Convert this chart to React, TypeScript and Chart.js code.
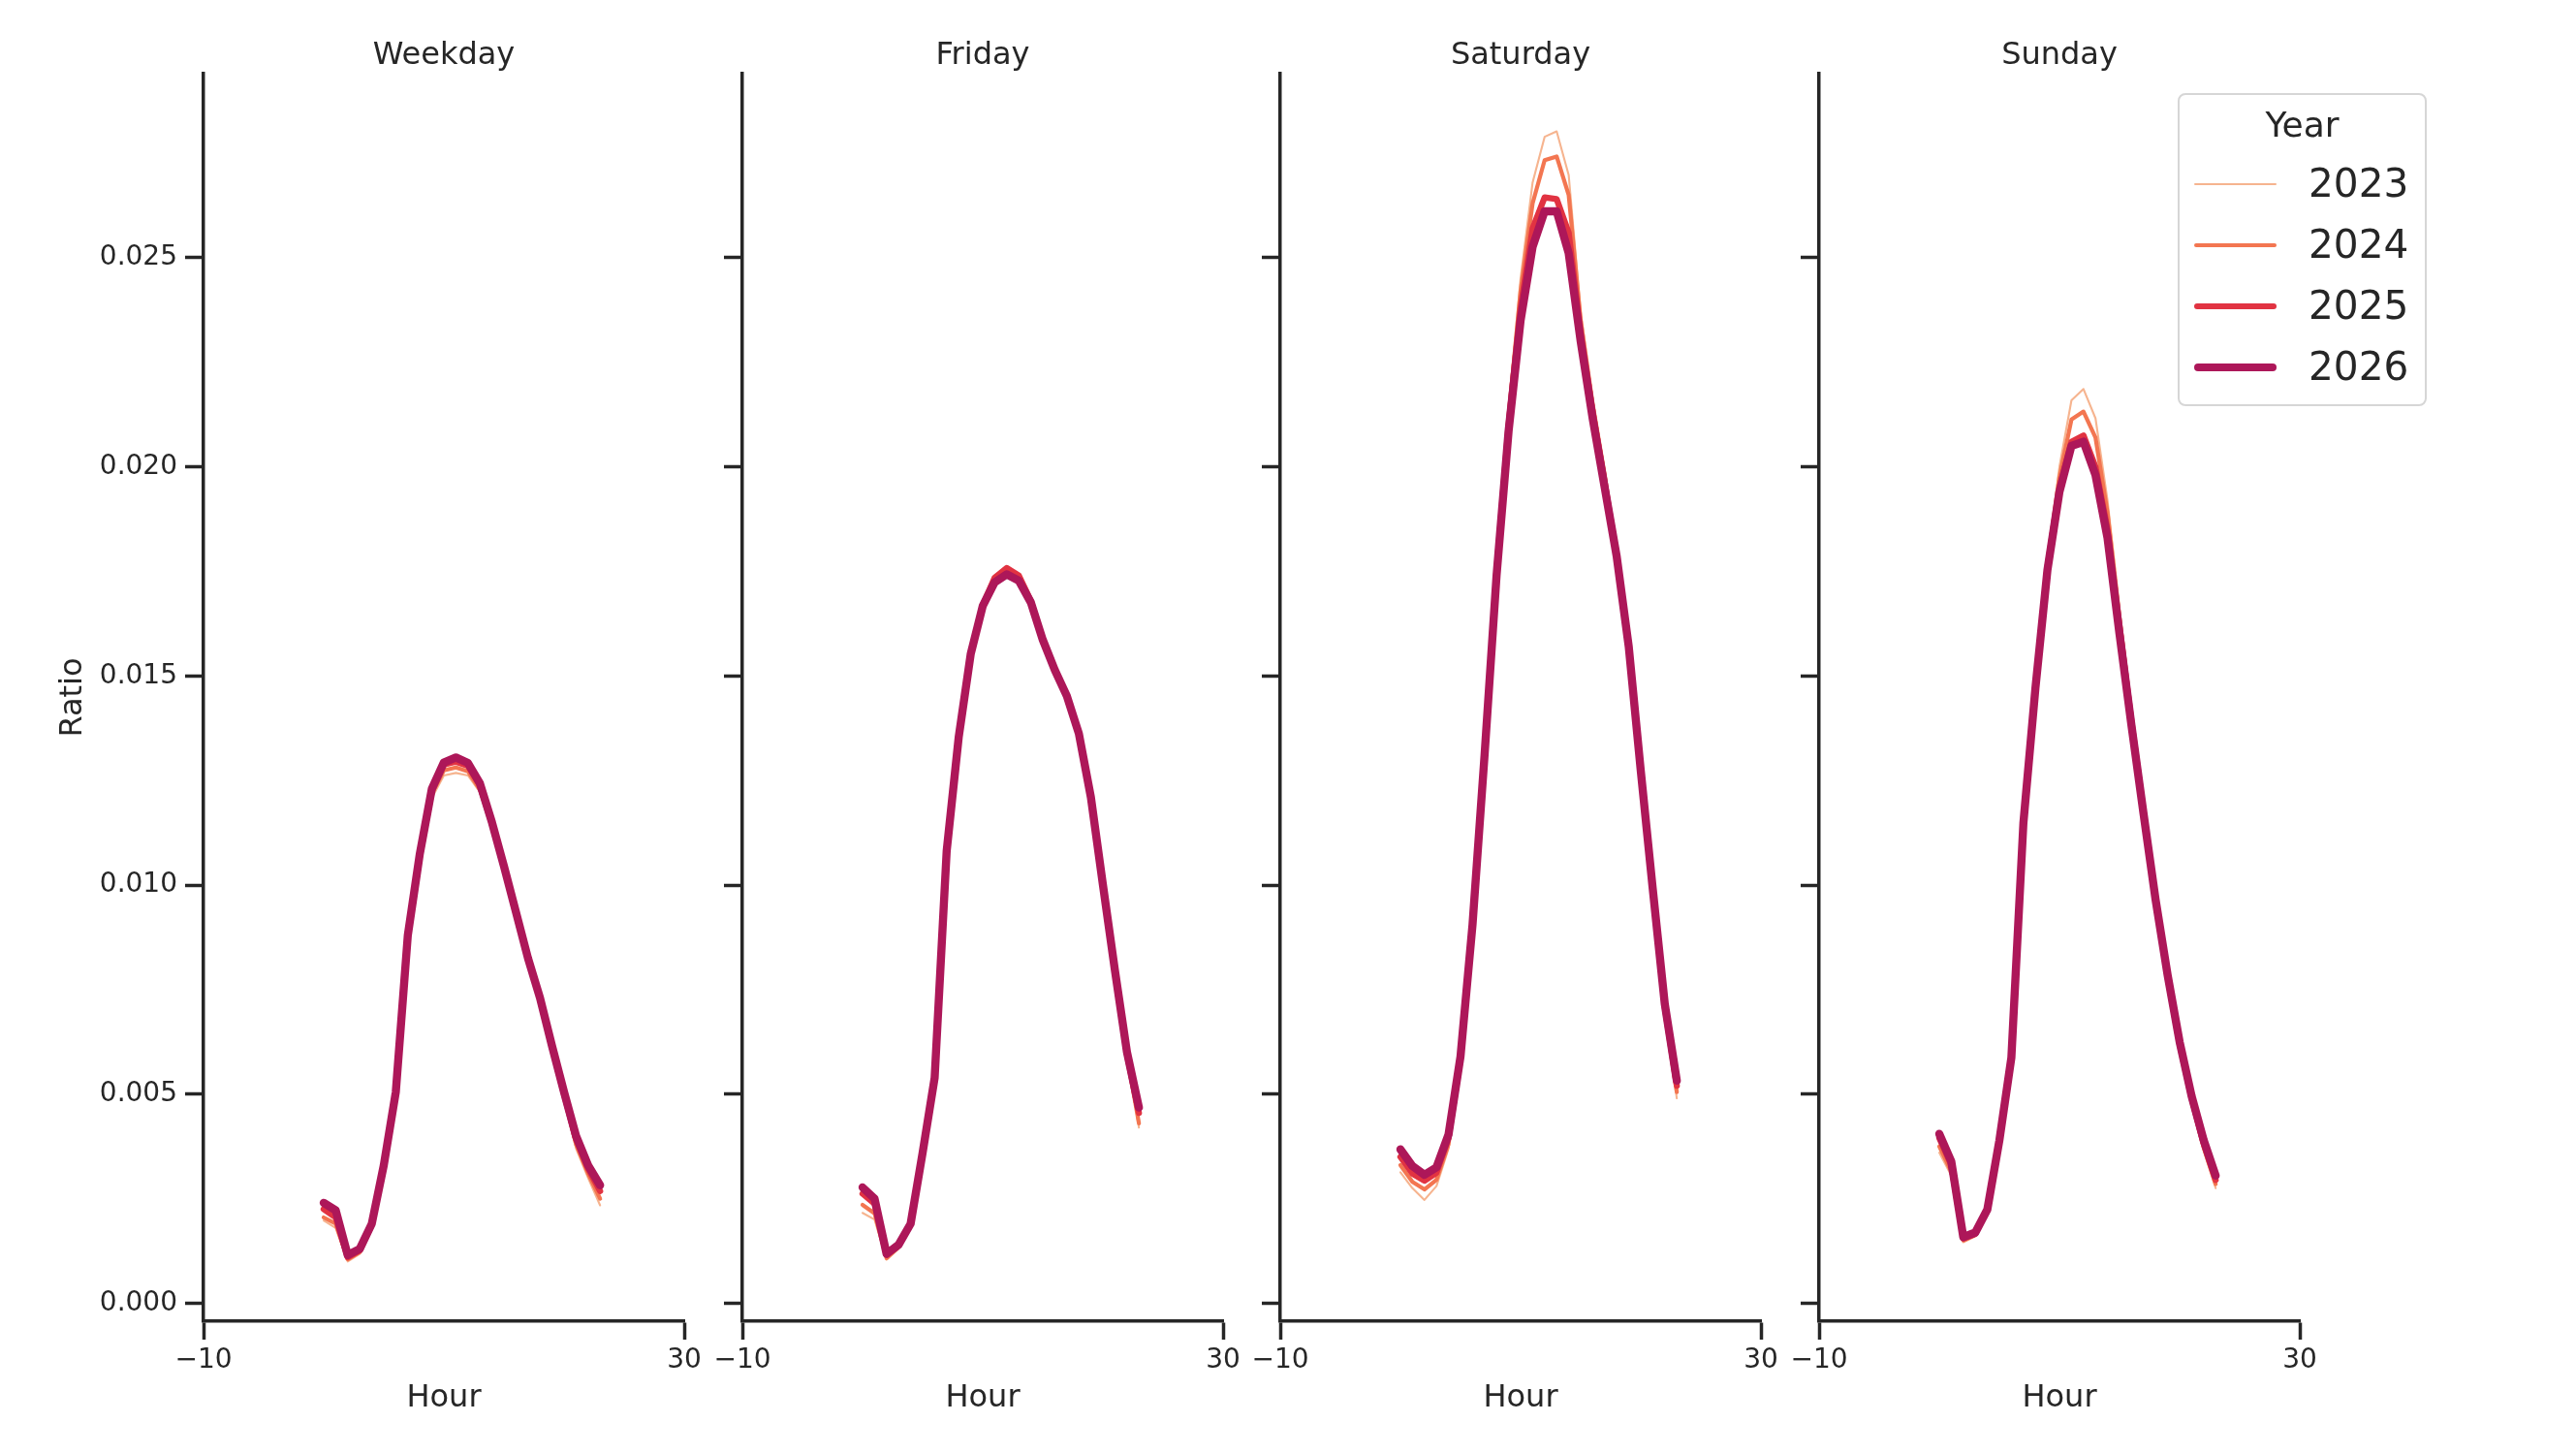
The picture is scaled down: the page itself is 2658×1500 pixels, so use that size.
import { useEffect, useRef } from "react";
import { Chart, ChartConfiguration, registerables } from "chart.js";

Chart.register(...registerables);

const INK = "#262626";
const FONT = "DejaVu Sans";

const hours = [0, 1, 2, 3, 4, 5, 6, 7, 8, 9, 10, 11, 12, 13, 14, 15, 16, 17, 18, 19, 20, 21, 22, 23];
const years = ["2023", "2024", "2025", "2026"];
const yearColors = ["#f6b48f", "#f37651", "#e13342", "#ad1759"];
const yearWidths = [2.1, 4.2, 6.3, 8.4];
const panelTitles = ["Weekday", "Friday", "Saturday", "Sunday"];
const yTicks = [0, 0.005, 0.01, 0.015, 0.02, 0.025];
const xTicks = [-10, 30];

const weekday2023 = [0.00198, 0.0018, 0.001, 0.00118, 0.00182, 0.00322, 0.00498, 0.00868, 0.01058, 0.01208, 0.01262, 0.01268, 0.01262, 0.01222, 0.01138, 0.01038, 0.00928, 0.0082, 0.00722, 0.00605, 0.0049, 0.0037, 0.003, 0.00234];
const weekday2024 = [0.00205, 0.0019, 0.00105, 0.00122, 0.00185, 0.00325, 0.005, 0.00872, 0.01065, 0.01218, 0.01274, 0.01281, 0.01272, 0.01228, 0.01142, 0.0104, 0.0093, 0.00822, 0.00725, 0.00608, 0.00495, 0.0038, 0.0031, 0.0025];
const weekday2025 = [0.00225, 0.00205, 0.0011, 0.00126, 0.00188, 0.00328, 0.00503, 0.00876, 0.0107, 0.01225, 0.01288, 0.01295, 0.01285, 0.01238, 0.01146, 0.01043, 0.00932, 0.00824, 0.00728, 0.00612, 0.005, 0.00392, 0.00322, 0.00268];
const weekday2026 = [0.0024, 0.00222, 0.00115, 0.0013, 0.0019, 0.0033, 0.00505, 0.0088, 0.01075, 0.0123, 0.01293, 0.01305, 0.01292, 0.01243, 0.0115, 0.01045, 0.00935, 0.00825, 0.0073, 0.00615, 0.00505, 0.004, 0.0033, 0.00282];

const friday2023 = [0.00216, 0.002, 0.00104, 0.0013, 0.00185, 0.00355, 0.00536, 0.01078, 0.0135, 0.0155, 0.01668, 0.0173, 0.01745, 0.01732, 0.01678, 0.01588, 0.01514, 0.0145, 0.01358, 0.01202, 0.00992, 0.00785, 0.0059, 0.0042];
const friday2024 = [0.00235, 0.00215, 0.00108, 0.00135, 0.00187, 0.00357, 0.00537, 0.0108, 0.01352, 0.01552, 0.0167, 0.01735, 0.01752, 0.01736, 0.01682, 0.0159, 0.01516, 0.01452, 0.0136, 0.01205, 0.00995, 0.00788, 0.00592, 0.0043];
const friday2025 = [0.00262, 0.00238, 0.00115, 0.00138, 0.00189, 0.00358, 0.00538, 0.01081, 0.01353, 0.01553, 0.0167, 0.01735, 0.01758, 0.0174, 0.0168, 0.01588, 0.01515, 0.01452, 0.01361, 0.01208, 0.00998, 0.00792, 0.00596, 0.00455];
const friday2026 = [0.00277, 0.0025, 0.00118, 0.0014, 0.0019, 0.0036, 0.00539, 0.01081, 0.01353, 0.01552, 0.01667, 0.01724, 0.01743, 0.01728, 0.01676, 0.01586, 0.01514, 0.01452, 0.01362, 0.0121, 0.01001, 0.00796, 0.00601, 0.00468];

const saturday2023 = [0.00313, 0.00275, 0.00247, 0.0028, 0.0037, 0.00575, 0.00905, 0.0132, 0.0177, 0.0214, 0.0245, 0.0268, 0.02789, 0.02802, 0.02698, 0.0237, 0.0216, 0.0199, 0.018, 0.01575, 0.01262, 0.00965, 0.00688, 0.0049];
const saturday2024 = [0.0033, 0.0029, 0.00272, 0.00295, 0.0038, 0.0058, 0.00905, 0.0132, 0.0176, 0.0212, 0.0242, 0.0263, 0.02733, 0.02742, 0.0265, 0.0235, 0.0215, 0.0198, 0.0179, 0.01573, 0.01265, 0.00972, 0.00698, 0.00505];
const saturday2025 = [0.0035, 0.0031, 0.00293, 0.00312, 0.00395, 0.00585, 0.00905, 0.01315, 0.0175, 0.021, 0.0238, 0.0257, 0.02644, 0.0264, 0.0256, 0.0232, 0.0213, 0.0196, 0.01788, 0.01572, 0.0127, 0.00985, 0.00708, 0.0052];
const saturday2026 = [0.00368, 0.00328, 0.00307, 0.00325, 0.00403, 0.0059, 0.00905, 0.0131, 0.0174, 0.02085, 0.0235, 0.02526, 0.02611, 0.02611, 0.02511, 0.023, 0.02115, 0.0195, 0.01785, 0.0157, 0.01273, 0.0099, 0.00715, 0.00532];

const sunday2023 = [0.0036, 0.00305, 0.00146, 0.0016, 0.00218, 0.00388, 0.0059, 0.01155, 0.01485, 0.0178, 0.02, 0.02159, 0.02186, 0.02116, 0.0192, 0.0166, 0.01415, 0.01185, 0.00965, 0.0077, 0.00605, 0.00475, 0.00365, 0.00275];
const sunday2024 = [0.00375, 0.00315, 0.0015, 0.00163, 0.0022, 0.00388, 0.00588, 0.01152, 0.0148, 0.0177, 0.01975, 0.02113, 0.02132, 0.0207, 0.0189, 0.0164, 0.01405, 0.0118, 0.00965, 0.00775, 0.00612, 0.00482, 0.00372, 0.00285];
const sunday2025 = [0.00395, 0.0033, 0.00155, 0.00166, 0.00222, 0.00388, 0.00587, 0.0115, 0.01475, 0.0176, 0.0195, 0.0206, 0.02075, 0.02, 0.0185, 0.01615, 0.0139, 0.01175, 0.00965, 0.0078, 0.0062, 0.0049, 0.00382, 0.00295];
const sunday2026 = [0.00405, 0.00339, 0.00158, 0.00169, 0.00224, 0.00389, 0.00587, 0.01148, 0.0147, 0.01753, 0.0194, 0.0205, 0.0206, 0.0198, 0.0183, 0.016, 0.0138, 0.0117, 0.00965, 0.00785, 0.00625, 0.00495, 0.0039, 0.00305];

const panelSeries = [
  [weekday2023, weekday2024, weekday2025, weekday2026],
  [friday2023, friday2024, friday2025, friday2026],
  [saturday2023, saturday2024, saturday2025, saturday2026],
  [sunday2023, sunday2024, sunday2025, sunday2026],
];

// figure geometry (px)
const axisLeft = [210, 766, 1321, 1877];
const panelWidth = 496;
const plotTop = 76;
const plotBottom = 1363;
const figHeight = 1500;
const sidePad = 40;
const Y_MIN = -0.00043;
const Y_MAX = 0.0294;

const Panel = ({ index }: { index: number }) => {
  const canvasRef = useRef<HTMLCanvasElement | null>(null);
  const chartRef = useRef<Chart | null>(null);

  const left = index === 0 ? 0 : axisLeft[index] - sidePad;
  const yAxisWidth = axisLeft[index] - left;
  const width = yAxisWidth + panelWidth + sidePad;

  useEffect(() => {
    if (!canvasRef.current) return;
    const ctx = canvasRef.current.getContext("2d");
    if (!ctx) return;
    if (chartRef.current) chartRef.current.destroy();

    const config: ChartConfiguration<"line"> = {
      type: "line",
      data: {
        datasets: years.map((year, k) => ({
          label: year,
          data: hours.map((h, j) => ({ x: h, y: panelSeries[index][k][j] })),
          borderColor: yearColors[k],
          backgroundColor: yearColors[k],
          borderWidth: yearWidths[k],
          borderCapStyle: "round",
          borderJoinStyle: "round",
          pointRadius: 0,
          tension: 0,
          fill: false,
          order: years.length - 1 - k,
        })),
      },
      options: {
        responsive: true,
        maintainAspectRatio: false,
        animation: false,
        layout: { padding: { left: 0, right: sidePad, top: 0, bottom: 0 } },
        scales: {
          x: {
            type: "linear",
            min: -10,
            max: 30,
            afterBuildTicks: (s) => {
              s.ticks = xTicks.map((v) => ({ value: v }));
            },
            afterFit: (s) => {
              s.height = figHeight - plotBottom;
            },
            border: { display: true, color: INK, width: 3.5 },
            grid: {
              drawOnChartArea: false,
              drawTicks: true,
              tickLength: 19,
              tickWidth: 3.5,
              tickColor: INK,
            },
            ticks: {
              color: INK,
              font: { family: FONT, size: 28 },
              padding: 5,
              maxRotation: 0,
              autoSkip: false,
              callback: (v) => (Number(v) < 0 ? "\u2212" + Math.abs(Number(v)) : String(v)),
            },
            title: {
              display: true,
              text: "Hour",
              color: INK,
              font: { family: FONT, size: 32 },
              padding: { top: 0, bottom: 38 },
            },
          },
          y: {
            type: "linear",
            min: Y_MIN,
            max: Y_MAX,
            afterBuildTicks: (s) => {
              s.ticks = yTicks.map((v) => ({ value: v }));
            },
            afterFit: (s) => {
              s.width = yAxisWidth;
            },
            border: { display: true, color: INK, width: 3.5 },
            grid: {
              drawOnChartArea: false,
              drawTicks: true,
              tickLength: 19,
              tickWidth: 3.5,
              tickColor: INK,
            },
            ticks: {
              display: index === 0,
              color: INK,
              font: { family: FONT, size: 28 },
              padding: 8,
              callback: (v) => Number(v).toFixed(3),
            },
            title: {
              display: index === 0,
              text: "Ratio",
              color: INK,
              font: { family: FONT, size: 32 },
              padding: { top: 56, bottom: 0 },
            },
          },
        },
        plugins: {
          legend: { display: false },
          tooltip: { enabled: false },
          title: {
            display: true,
            text: panelTitles[index],
            fullSize: false,
            color: INK,
            font: { family: FONT, size: 32, weight: "normal" },
            padding: { top: 38, bottom: plotTop - 38 - 32 * 1.2 },
          },
        },
      },
    };

    chartRef.current = new Chart(ctx, config);
    return () => {
      if (chartRef.current) {
        chartRef.current.destroy();
        chartRef.current = null;
      }
    };
  }, [index, yAxisWidth]);

  return (
    <div style={{ position: "absolute", left, top: 0, width, height: figHeight }}>
      <canvas ref={canvasRef}></canvas>
    </div>
  );
};

const Legend = () => (
  <div
    style={{
      position: "absolute",
      left: 2247,
      top: 96,
      width: 257,
      height: 323,
      boxSizing: "border-box",
      border: "2.7px solid #d6d6d6",
      borderRadius: 8,
      background: "rgba(255,255,255,0.85)",
      fontFamily: FONT,
      color: INK,
    }}
  >
    <div
      style={{
        position: "absolute",
        left: 0,
        width: "100%",
        top: 9,
        textAlign: "center",
        fontSize: 36,
        lineHeight: "44px",
      }}
    >
      Year
    </div>
    {years.map((year, k) => {
      const cy = 92 + k * 63;
      return (
        <div key={year}>
          <div
            style={{
              position: "absolute",
              left: 15,
              width: 85,
              top: cy - yearWidths[k] / 2,
              height: yearWidths[k],
              borderRadius: yearWidths[k] / 2,
              background: yearColors[k],
            }}
          />
          <div
            style={{
              position: "absolute",
              left: 133,
              top: cy - 26,
              height: 50,
              lineHeight: "50px",
              fontSize: 40.6,
            }}
          >
            {year}
          </div>
        </div>
      );
    })}
  </div>
);

export default function App() {
  return (
    <div
      style={{
        position: "absolute",
        left: 0,
        top: 0,
        width: 2658,
        height: figHeight,
        background: "#ffffff",
        overflow: "hidden",
      }}
    >
      {panelTitles.map((_, i) => (
        <Panel key={i} index={i} />
      ))}
      <Legend />
    </div>
  );
}
